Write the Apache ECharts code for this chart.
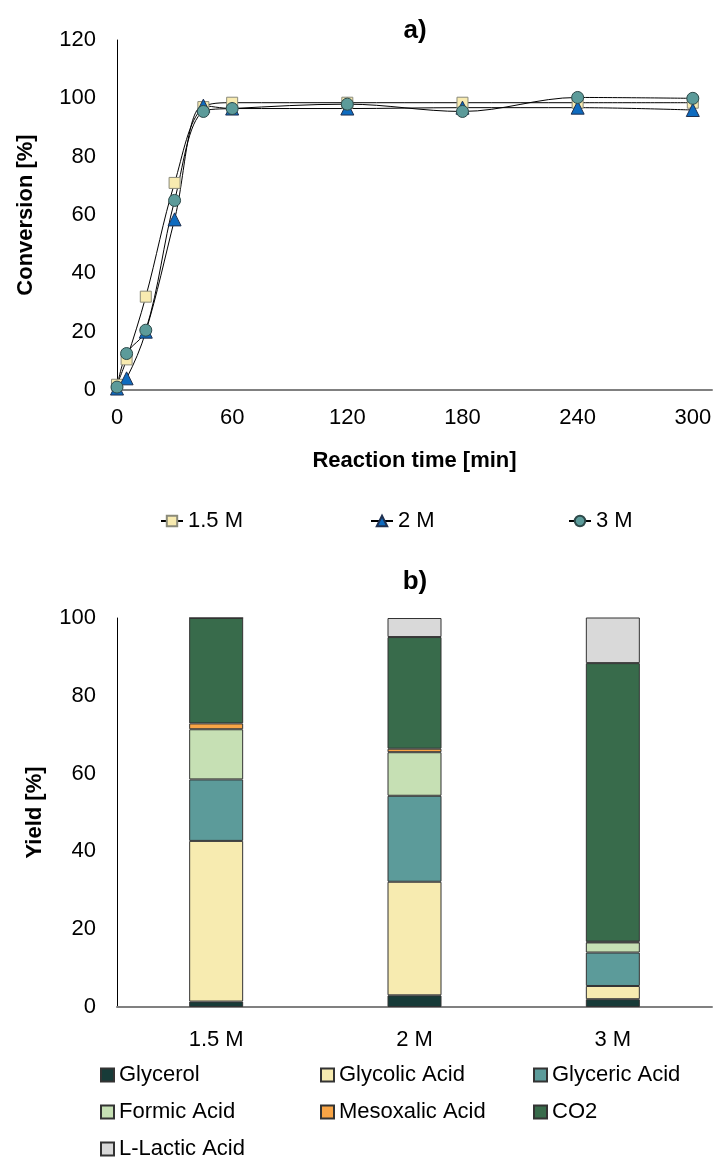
<!DOCTYPE html>
<html>
<head>
<meta charset="utf-8">
<script src="https://cdn.jsdelivr.net/npm/echarts@6/dist/echarts.min.js"></script>
<style>
html,body{margin:0;padding:0;background:#fff;}
#chart{width:720px;height:1159px;}
</style>
</head>
<body>
<div id="chart"></div>
<script>
// ---- Data: panel a) conversion vs time ----
const times = [0, 5, 15, 30, 45, 60, 120, 180, 240, 300];
const conv15M = [1.8, 10.5, 32, 71, 97, 98.5, 98.5, 98.5, 98.5, 98.5];
const conv2M  = [0.5, 4, 20, 58.5, 97.5, 96.5, 96.5, 96.8, 96.8, 96];
const conv3M  = [1, 12.5, 20.5, 65, 95.5, 96.5, 98, 95.5, 100.3, 100];
const xTicks = [0, 60, 120, 180, 240, 300];
const yTicksA = [0, 20, 40, 60, 80, 100, 120];

// ---- Data: panel b) yields ----
const categories = ['1.5 M', '2 M', '3 M'];
const glycerol   = [1.4, 3.0, 2.0];
const glycolic   = [41.3, 29.2, 3.4];
const glyceric   = [15.8, 22.1, 8.6];
const formic     = [12.9, 11.2, 2.6];
const mesoxalic  = [1.5, 0.9, 0.2];
const co2        = [27.1, 28.7, 71.6];
const lactic     = [0, 4.9, 11.8];

const FONT = 'Liberation Sans, Arial, sans-serif';
const chart = echarts.init(document.getElementById('chart'), null, {renderer: 'canvas'});

function pairs(vals) { return times.map((t, i) => [t, vals[i]]); }

const barDefs = [
  ['Glycerol', glycerol, '#173B38'],
  ['Glycolic Acid', glycolic, '#F7EBB0'],
  ['Glyceric Acid', glyceric, '#5C9B9A'],
  ['Formic Acid', formic, '#C6E0B4'],
  ['Mesoxalic Acid', mesoxalic, '#F9A546'],
  ['CO2', co2, '#386B4B'],
  ['L-Lactic Acid', lactic, '#D9D9D9']
];

const labelStyle = {color: '#000', fontFamily: FONT, fontSize: 22};
const topLegend = {top: 510, padding: 0, itemWidth: 22, itemHeight: 13, textStyle: labelStyle};
const colLegend = {orient: 'vertical', top: 1064, height: 130, padding: 0,
  itemWidth: 13, itemHeight: 13, itemGap: 15, icon: 'rect', textStyle: labelStyle};

const option = {
  animation: false,
  backgroundColor: '#fff',
  title: [
    {text: 'a)', left: 410, top: 13, textAlign: 'center',
     textStyle: {fontFamily: FONT, fontSize: 26, fontWeight: 'bold', color: '#000'}},
    {text: 'b)', left: 410, top: 564, textAlign: 'center',
     textStyle: {fontFamily: FONT, fontSize: 26, fontWeight: 'bold', color: '#000'}}
  ],
  grid: [
    {left: 117, top: 40, width: 595, height: 350},
    {left: 117, top: 618, width: 595, height: 389}
  ],
  legend: [
    Object.assign({data: ['1.5 M'], left: 160}, topLegend),
    Object.assign({data: ['2 M'], left: 370}, topLegend),
    Object.assign({data: ['3 M'], left: 568}, topLegend),
    Object.assign({data: ['Glycerol', 'Formic Acid', 'L-Lactic Acid'], left: 100}, colLegend),
    Object.assign({data: ['Glycolic Acid', 'Mesoxalic Acid'], left: 320}, colLegend),
    Object.assign({data: ['Glyceric Acid', 'CO2'], left: 533}, colLegend)
  ],
  xAxis: [
    {type: 'value', gridIndex: 0, min: 0, max: 310, interval: 60,
     name: 'Reaction time [min]', nameLocation: 'middle', nameGap: 60,
     nameTextStyle: {fontFamily: FONT, fontSize: 22, fontWeight: 'bold', color: '#000'},
     axisLine: {show: true, onZero: false, lineStyle: {color: '#808080', width: 2}},
     axisTick: {show: false}, splitLine: {show: false},
     axisLabel: Object.assign({margin: 17, formatter: v => xTicks.includes(v) ? String(v) : ''}, labelStyle)},
    {type: 'category', gridIndex: 1, data: categories,
     axisLine: {show: true, lineStyle: {color: '#808080', width: 2}},
     axisTick: {show: false},
     axisLabel: Object.assign({margin: 22}, labelStyle)}
  ],
  yAxis: [
    {type: 'value', gridIndex: 0, min: 0, max: 120, interval: 20,
     name: 'Conversion [%]', nameLocation: 'middle', nameGap: 80,
     nameTextStyle: {fontFamily: FONT, fontSize: 22, fontWeight: 'bold', color: '#000'},
     axisLine: {show: true, lineStyle: {color: '#000', width: 1}},
     axisTick: {show: false}, splitLine: {show: false},
     axisLabel: Object.assign({margin: 21, formatter: v => yTicksA.includes(v) ? String(v) : ''}, labelStyle)},
    {type: 'value', gridIndex: 1, min: 0, max: 100, interval: 20,
     name: 'Yield [%]', nameLocation: 'middle', nameGap: 71,
     nameTextStyle: {fontFamily: FONT, fontSize: 22, fontWeight: 'bold', color: '#000'},
     axisLine: {show: true, lineStyle: {color: '#000', width: 1}},
     axisTick: {show: false}, splitLine: {show: false},
     axisLabel: Object.assign({margin: 21}, labelStyle)}
  ],
  series: [
    {name: '1.5 M', type: 'line', xAxisIndex: 0, yAxisIndex: 0, data: pairs(conv15M), smooth: 0.35,
     symbol: 'rect', symbolSize: 11,
     itemStyle: {color: '#F8EBB0', borderColor: '#8A8A7A', borderWidth: 1},
     lineStyle: {color: '#000', width: 1}},
    {name: '2 M', type: 'line', xAxisIndex: 0, yAxisIndex: 0, data: pairs(conv2M), smooth: 0.35,
     symbol: 'triangle', symbolSize: 13,
     itemStyle: {color: '#0E6BBF', borderColor: '#1F3050', borderWidth: 1},
     lineStyle: {color: '#000', width: 1}},
    {name: '3 M', type: 'line', xAxisIndex: 0, yAxisIndex: 0, data: pairs(conv3M), smooth: 0.35,
     symbol: 'circle', symbolSize: 12,
     itemStyle: {color: '#5C9B9A', borderColor: '#2E4A4A', borderWidth: 1},
     lineStyle: {color: '#000', width: 1}}
  ].concat(barDefs.map(([name, vals, color]) => ({
    name: name, type: 'bar', xAxisIndex: 1, yAxisIndex: 1, stack: 'yield', data: vals,
    barWidth: 54,
    itemStyle: {color: color, borderColor: '#333', borderWidth: 1}
  })))
};

chart.setOption(option);
</script>
</body>
</html>
